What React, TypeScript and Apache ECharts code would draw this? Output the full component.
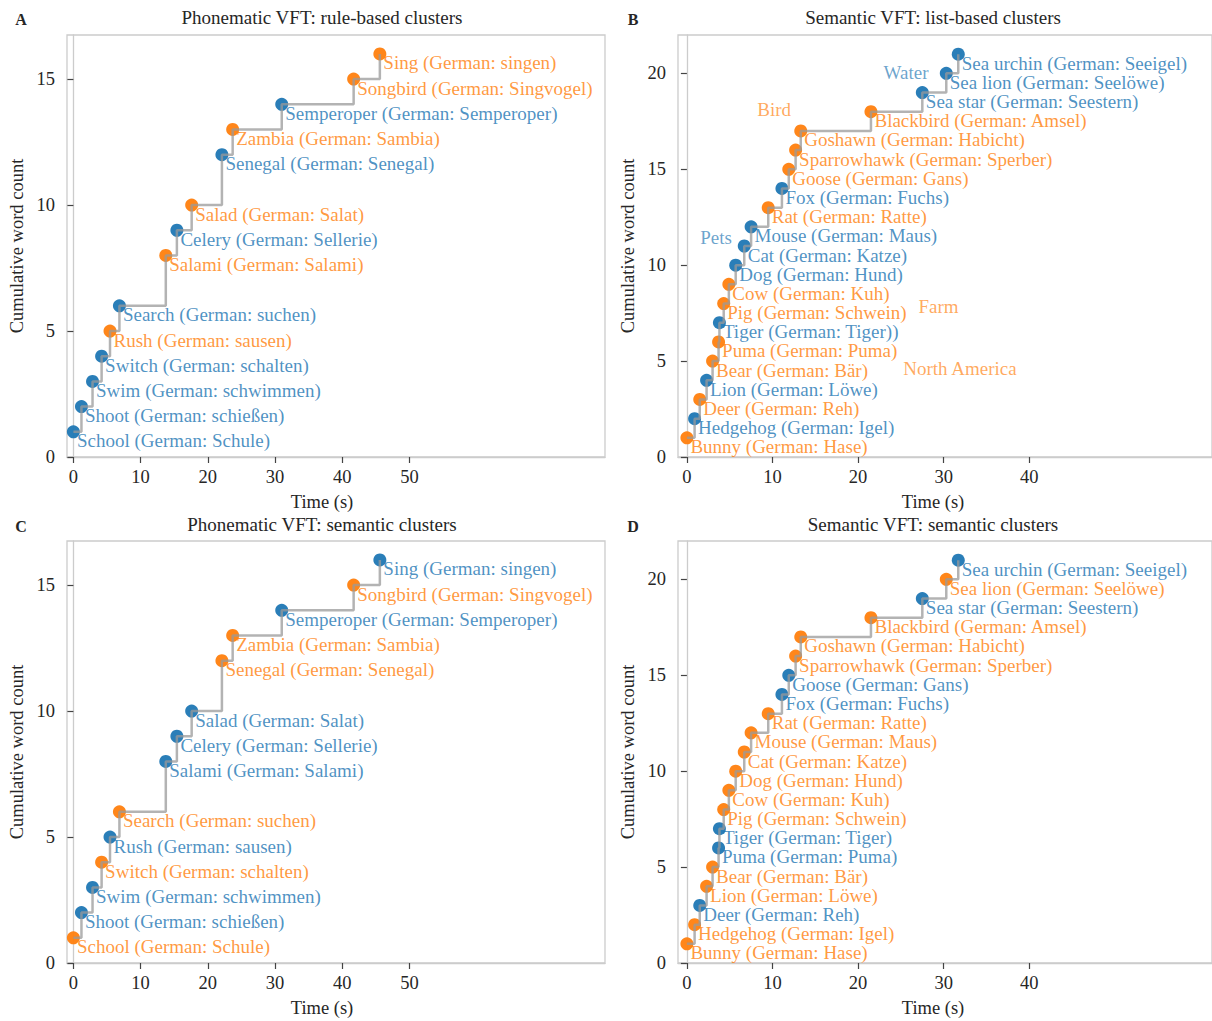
import React, { useEffect, useRef } from "react";
import * as echarts from "echarts";

const BLUE = "#1f77b4";
const ORANGE = "#ff7f0e";
const FONT = "'Liberation Serif', 'Times New Roman', serif";

// ---------- Phonematic VFT ----------
const PHON_WORDS = [
  "School (German: Schule)",
  "Shoot (German: schießen)",
  "Swim (German: schwimmen)",
  "Switch (German: schalten)",
  "Rush (German: sausen)",
  "Search (German: suchen)",
  "Salami (German: Salami)",
  "Celery (German: Sellerie)",
  "Salad (German: Salat)",
  "Senegal (German: Senegal)",
  "Zambia (German: Sambia)",
  "Semperoper (German: Semperoper)",
  "Songbird (German: Singvogel)",
  "Sing (German: singen)",
];
const PHON_TIMES = [0, 1.2, 2.85, 4.2, 5.45, 6.85, 13.75, 15.4, 17.6, 22.1, 23.7, 31.0, 41.7, 45.6];
const PHON_COUNTS = [1, 2, 3, 4, 5, 6, 8, 9, 10, 12, 13, 14, 15, 16];
// 0 = blue, 1 = orange
const PHON_RULE_CLUSTER = [0, 0, 0, 0, 1, 0, 1, 0, 1, 0, 1, 0, 1, 1];
const PHON_SEM_CLUSTER = [1, 0, 0, 1, 0, 1, 0, 0, 0, 1, 1, 0, 1, 0];

// ---------- Semantic VFT ----------
const SEM_WORDS_LIST = [
  "Bunny (German: Hase)",
  "Hedgehog (German: Igel)",
  "Deer (German: Reh)",
  "Lion (German: Löwe)",
  "Bear (German: Bär)",
  "Puma (German: Puma)",
  "Tiger (German: Tiger))",
  "Pig (German: Schwein)",
  "Cow (German: Kuh)",
  "Dog (German: Hund)",
  "Cat (German: Katze)",
  "Mouse (German: Maus)",
  "Rat (German: Ratte)",
  "Fox (German: Fuchs)",
  "Goose (German: Gans)",
  "Sparrowhawk (German: Sperber)",
  "Goshawn (German: Habicht)",
  "Blackbird (German: Amsel)",
  "Sea star (German: Seestern)",
  "Sea lion (German: Seelöwe)",
  "Sea urchin (German: Seeigel)",
];
const SEM_WORDS_SEM = [
  "Bunny (German: Hase)",
  "Hedgehog (German: Igel)",
  "Deer (German: Reh)",
  "Lion (German: Löwe)",
  "Bear (German: Bär)",
  "Puma (German: Puma)",
  "Tiger (German: Tiger)",
  "Pig (German: Schwein)",
  "Cow (German: Kuh)",
  "Dog (German: Hund)",
  "Cat (German: Katze)",
  "Mouse (German: Maus)",
  "Rat (German: Ratte)",
  "Fox (German: Fuchs)",
  "Goose (German: Gans)",
  "Sparrowhawk (German: Sperber)",
  "Goshawn (German: Habicht)",
  "Blackbird (German: Amsel)",
  "Sea star (German: Seestern)",
  "Sea lion (German: Seelöwe)",
  "Sea urchin (German: Seeigel)",
];
const SEM_TIMES = [0, 0.9, 1.5, 2.3, 3.0, 3.7, 3.8, 4.3, 4.9, 5.7, 6.7, 7.5, 9.5, 11.1, 11.9, 12.7, 13.3, 21.5, 27.5, 30.3, 31.7];
const SEM_COUNTS = [1, 2, 3, 4, 5, 6, 7, 8, 9, 10, 11, 12, 13, 14, 15, 16, 17, 18, 19, 20, 21];
const SEM_LIST_CLUSTER = [1, 0, 1, 0, 1, 1, 0, 1, 1, 0, 0, 0, 1, 0, 1, 1, 1, 1, 0, 0, 0];
const SEM_SEM_CLUSTER = [1, 1, 0, 1, 1, 0, 0, 1, 1, 1, 1, 1, 1, 0, 0, 1, 1, 1, 0, 1, 0];

// list-based cluster names (panel B)
const LIST_NAMES = ["Water", "Bird", "Pets", "Farm", "North America"];
const LIST_NAME_T = [25.6, 10.2, 3.4, 29.4, 31.9];
const LIST_NAME_Y = [20.05, 18.1, 11.45, 7.85, 4.6];
const LIST_NAME_C = [0, 1, 0, 1, 1];

const PHON_XTICKS = [0, 10, 20, 30, 40, 50];
const SEM_XTICKS = [0, 10, 20, 30, 40];
const PHON_YTICKS = [0, 5, 10, 15];
const SEM_YTICKS = [0, 5, 10, 15, 20];

const TITLES = [
  "Phonematic VFT: rule-based clusters",
  "Semantic VFT: list-based clusters",
  "Phonematic VFT: semantic clusters",
  "Semantic VFT: semantic clusters",
];
const LETTERS = ["A", "B", "C", "D"];

const COLS = [BLUE, ORANGE];
const TXT_COLS = ["rgba(31,119,180,0.85)", "rgba(255,127,14,0.85)"];

function App() {
  const ref = useRef<HTMLDivElement>(null);

  useEffect(() => {
    if (!ref.current) return;
    const chart = echarts.init(ref.current, null, { renderer: "svg" });

    const grids = [
      { left: 67, top: 35, width: 538, height: 422 },
      { left: 678, top: 35, width: 538, height: 422 },
      { left: 67, top: 541, width: 538, height: 422 },
      { left: 678, top: 541, width: 538, height: 422 },
    ].map((g) => ({ ...g, show: true, borderColor: "#cccccc", borderWidth: 1.3, backgroundColor: "#ffffff" }));

    const xRanges = [
      [-0.95, 79.1],
      [-1.04, 61.34],
      [-0.95, 79.1],
      [-1.04, 61.34],
    ];
    const yMax = [16.75, 22, 16.75, 22];
    const xTicks = [PHON_XTICKS, SEM_XTICKS, PHON_XTICKS, SEM_XTICKS];
    const yTicks = [PHON_YTICKS, SEM_YTICKS, PHON_YTICKS, SEM_YTICKS];

    const axisTextStyle = { fontFamily: FONT, fontSize: 18.5, color: "#262626" };

    const xAxis = [0, 1, 2, 3].map((i) => ({
      type: "value",
      gridIndex: i,
      min: xRanges[i][0],
      max: xRanges[i][1],
      axisLine: { show: true, lineStyle: { color: "#cccccc", width: 1.3 } },
      axisTick: { show: true, customValues: xTicks[i], length: 6, lineStyle: { color: "#444", width: 1.2 } },
      axisLabel: { show: true, customValues: xTicks[i], margin: 10, ...axisTextStyle },
      splitLine: { show: false },
    }));
    const yAxis = [0, 1, 2, 3].map((i) => ({
      type: "value",
      gridIndex: i,
      min: 0,
      max: yMax[i],
      axisLine: { show: true, lineStyle: { color: "#cccccc", width: 1.3 } },
      axisTick: { show: true, customValues: yTicks[i], length: 6, lineStyle: { color: "#444", width: 1.2 } },
      axisLabel: { show: true, customValues: yTicks[i], margin: 12, ...axisTextStyle },
      splitLine: { show: false },
    }));

    const panels = [
      { times: PHON_TIMES, counts: PHON_COUNTS, words: PHON_WORDS, cl: PHON_RULE_CLUSTER },
      { times: SEM_TIMES, counts: SEM_COUNTS, words: SEM_WORDS_LIST, cl: SEM_LIST_CLUSTER },
      { times: PHON_TIMES, counts: PHON_COUNTS, words: PHON_WORDS, cl: PHON_SEM_CLUSTER },
      { times: SEM_TIMES, counts: SEM_COUNTS, words: SEM_WORDS_SEM, cl: SEM_SEM_CLUSTER },
    ];

    const series: any[] = [];
    panels.forEach((p, i) => {
      series.push({
        type: "scatter",
        xAxisIndex: i,
        yAxisIndex: i,
        symbol: "circle",
        symbolSize: 13,
        z: 2,
        clip: false,
        data: p.times.map((t, k) => ({
          value: [t, p.counts[k]],
          name: p.words[k],
          itemStyle: { color: COLS[p.cl[k]], opacity: 0.95 },
          label: { color: TXT_COLS[p.cl[k]] },
        })),
        label: {
          show: true,
          position: [10, 6],
          align: "left",
          verticalAlign: "top",
          formatter: "{b}",
          fontFamily: FONT,
          fontSize: 19,
        },
        emphasis: { disabled: true },
      });
      series.push({
        type: "line",
        xAxisIndex: i,
        yAxisIndex: i,
        step: "end",
        symbol: "none",
        z: 3,
        lineStyle: { color: "#999999", width: 2.5, opacity: 0.75 },
        data: p.times.map((t, k) => [t, p.counts[k]]),
        emphasis: { disabled: true },
      });
    });

    // cluster names for panel B
    series.push({
      type: "scatter",
      xAxisIndex: 1,
      yAxisIndex: 1,
      symbolSize: 0,
      z: 4,
      clip: false,
      data: LIST_NAMES.map((n, k) => ({
        value: [LIST_NAME_T[k], LIST_NAME_Y[k]],
        name: n,
        label: { color: TXT_COLS[LIST_NAME_C[k]] },
      })),
      label: {
        show: true,
        position: "inside",
        align: "center",
        verticalAlign: "middle",
        formatter: "{b}",
        fontFamily: FONT,
        fontSize: 19,
      },
      emphasis: { disabled: true },
    });

    const txt = (text: string, x: number, y: number, opts: any = {}) => ({
      type: "text",
      x,
      y,
      rotation: opts.rotation || 0,
      style: {
        text,
        fill: opts.fill || "#262626",
        fontFamily: FONT,
        fontSize: opts.fontSize || 18.5,
        fontWeight: opts.fontWeight || "normal",
        align: "center",
        verticalAlign: "middle",
        textAlign: "center",
        textVerticalAlign: "middle",
      },
    });

    const colX = [322, 933];
    const rowTitleY = [17, 524];
    const rowXLabelY = [502, 1008];
    const rowCenterY = [246, 752];
    const letterX = [21, 633];
    const yLabelX = [17, 628];

    const graphic: any[] = [];
    for (let i = 0; i < 4; i++) {
      const c = i % 2;
      const r = Math.floor(i / 2);
      graphic.push(txt(LETTERS[i], letterX[c], rowTitleY[r] + 2, { fontWeight: "bold", fontSize: 16 }));
      graphic.push(txt(TITLES[i], colX[c], rowTitleY[r], { fontSize: 19 }));
      graphic.push(txt("Time (s)", colX[c], rowXLabelY[r]));
      graphic.push(txt("Cumulative word count", yLabelX[c], rowCenterY[r], { rotation: Math.PI / 2 }));
    }

    chart.setOption({
      animation: false,
      backgroundColor: "#ffffff",
      grid: grids,
      xAxis,
      yAxis,
      series,
      graphic,
    } as any);

    return () => chart.dispose();
  }, []);

  return (
    <div
      ref={ref}
      style={{ position: "absolute", left: 0, top: 0, width: 1212, height: 1021, overflow: "hidden" }}
    />
  );
}

export default App;
